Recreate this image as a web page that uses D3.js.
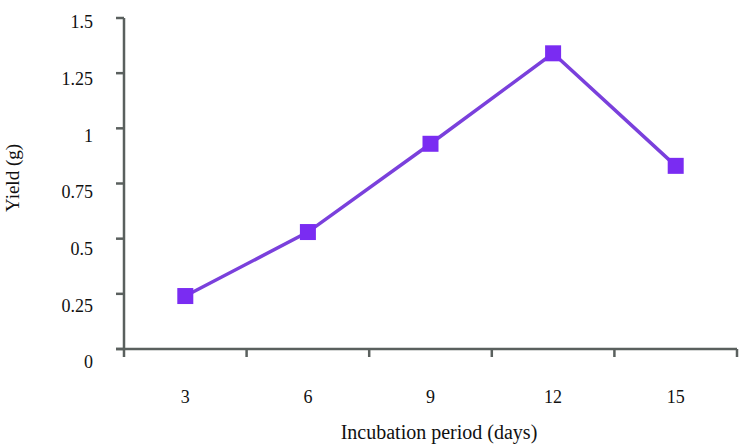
<!DOCTYPE html>
<html>
<head>
<meta charset="utf-8">
<script src="https://cdn.jsdelivr.net/npm/d3@7"></script>
<style>
  body { margin: 0; background: #fff; }
  text { font-family: "Liberation Serif", "DejaVu Serif", serif; fill: #111; }
</style>
</head>
<body>
<div id="chart"></div>
<script>
// incubation period (days) and yield (g)
var dias = ["3", "6", "9", "12", "15"];
var rendimiento = [0.24, 0.53, 0.93, 1.34, 0.83];
var yTicks = [0, 0.25, 0.5, 0.75, 1, 1.25, 1.5];

var width = 745,
    height = 446,
    ejeColor = "#5a605e",
    morado = "#7a2cf2";

var svg = d3.select("#chart").append("svg")
    .attr("width", width)
    .attr("height", height);

var x = d3.scaleBand().domain(dias).range([124, 737]).padding(0),
    y = d3.scaleLinear().domain([0, 1.5]).range([349, 18]),
    // labels sit a little lower than their ticks in the original
    yLab = d3.scaleLinear().domain([0, 1.5]).range([362, 22]);

// y axis
svg.append("line")
    .attr("x1", x.range()[0]).attr("x2", x.range()[0])
    .attr("y1", y(1.5)).attr("y2", y(0) + 8)
    .attr("stroke", ejeColor).attr("stroke-width", 2.5);

svg.selectAll(".ytick").data(yTicks).enter().append("line")
    .attr("class", "ytick")
    .attr("x1", x.range()[0] - 8).attr("x2", x.range()[0])
    .attr("y1", function (d) { return y(d); })
    .attr("y2", function (d) { return y(d); })
    .attr("stroke", ejeColor).attr("stroke-width", 2.5);

svg.selectAll(".ylab").data(yTicks).enter().append("text")
    .attr("class", "ylab")
    .attr("x", 93)
    .attr("y", function (d) { return yLab(d); })
    .attr("dy", "0.35em")
    .attr("text-anchor", "end")
    .style("font-size", "18px")
    .text(function (d) { return String(d); });

// x axis
svg.append("line")
    .attr("x1", x.range()[0] - 8).attr("x2", x.range()[1])
    .attr("y1", y(0)).attr("y2", y(0))
    .attr("stroke", ejeColor).attr("stroke-width", 2.5);

svg.selectAll(".xtick").data(dias).enter().append("line")
    .attr("class", "xtick")
    .attr("x1", function (d) { return x(d) + x.bandwidth(); })
    .attr("x2", function (d) { return x(d) + x.bandwidth(); })
    .attr("y1", y(0)).attr("y2", y(0) + 8)
    .attr("stroke", ejeColor).attr("stroke-width", 2.5);

svg.selectAll(".xlab").data(dias).enter().append("text")
    .attr("class", "xlab")
    .attr("x", function (d) { return x(d) + x.bandwidth() / 2; })
    .attr("y", y(0) + 54)
    .attr("text-anchor", "middle")
    .style("font-size", "18px")
    .text(function (d) { return d; });

// titles
svg.append("text")
    .attr("x", 439).attr("y", 439)
    .attr("text-anchor", "middle")
    .style("font-size", "20px")
    .text("Incubation period (days)");

svg.append("text")
    .attr("transform", "translate(19,178) rotate(-90)")
    .attr("text-anchor", "middle")
    .style("font-size", "19px")
    .text("Yield (g)");

// series
var puntos = dias.map(function (d, i) { return { dia: d, valor: rendimiento[i] }; });

var linea = d3.line()
    .x(function (d) { return x(d.dia) + x.bandwidth() / 2; })
    .y(function (d) { return y(d.valor); });

svg.append("path")
    .datum(puntos)
    .attr("d", linea)
    .attr("fill", "none")
    .attr("stroke", "#7a40dc")
    .attr("stroke-width", 3.5);

svg.selectAll(".marca").data(puntos).enter().append("rect")
    .attr("class", "marca")
    .attr("x", function (d) { return x(d.dia) + x.bandwidth() / 2 - 8; })
    .attr("y", function (d) { return y(d.valor) - 8; })
    .attr("width", 16)
    .attr("height", 16)
    .attr("fill", morado);
</script>
</body>
</html>
